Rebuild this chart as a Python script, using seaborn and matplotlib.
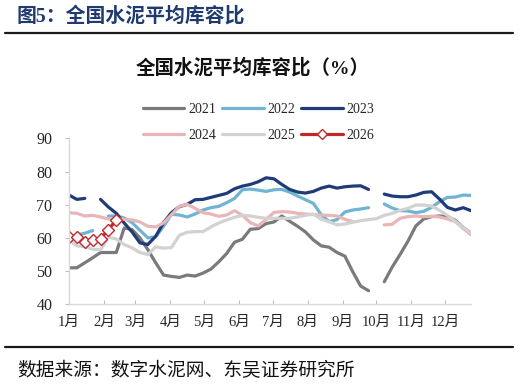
import numpy as np
import pandas as pd
import matplotlib
matplotlib.use("Agg")
import matplotlib.pyplot as plt
from matplotlib.lines import Line2D
import seaborn as sns

# weekly readings, week 0 = first week of January (NaN = no data / holiday gap)
nan = np.nan
weeks = np.arange(52)

y2021 = [51.0, 51.0, 52.5, 54.0, 55.6, 55.6, 55.6, 63.0, 62.5, 60.0,
         56.5, 52.5, 48.8, 48.4, 48.1, 48.8, 48.5, 49.4, 50.6, 52.8,
         55.3, 58.7, 59.6, 62.6, 62.8, 64.3, 64.8, 66.6, 65.0, 63.5,
         61.8, 59.4, 57.6, 57.2, 55.6, 54.5, 49.8, 45.5, 44.1, nan,
         46.8, 51.2, 55.0, 59.0, 63.6, 65.7, 66.4, 66.6, 66.4, 65.3,
         63.2, 61.4]
y2022 = [nan, 60.9, 61.4, 62.2, nan, 66.6, 66.6, 66.0, 64.6, 62.3,
         60.0, 60.3, 63.5, 67.1, 66.9, 66.3, 67.2, 68.4, 69.1, 69.5,
         70.6, 71.9, 74.5, 74.7, 74.4, 74.0, 74.5, 74.6, 73.8, 72.6,
         71.5, 70.4, 67.0, 64.9, 65.5, 67.8, 68.4, 68.7, 69.1, nan,
         70.2, 69.0, 68.2, 68.1, 67.6, 68.0, 69.2, 70.9, 72.2, 72.3,
         72.9, 72.8]
y2023 = [72.9, 71.6, 71.9, nan, 71.6, 69.3, 67.4, 64.5, 61.8, 58.5,
         58.0, 60.5, 64.6, 67.6, 69.4, 70.1, 71.5, 71.6, 72.2, 72.8,
         73.4, 74.8, 75.6, 76.1, 76.9, 78.1, 77.8, 76.1, 74.6, 73.8,
         73.5, 74.0, 75.0, 75.6, 75.0, 75.4, 75.6, 75.7, 74.6, nan,
         73.2, 72.6, 72.4, 72.4, 72.9, 73.7, 73.9, 71.7, 69.2, 68.4,
         69.1, 68.2]
y2024 = [67.6, 67.4, 66.6, 66.8, 66.3, 65.7, 65.8, 65.6, 65.4, 64.8,
         63.5, 63.3, 64.5, 67.0, 69.5, 70.1, 68.9, 67.6, 67.2, 66.5,
         66.9, 68.2, 66.8, 64.6, 63.6, 65.5, 67.7, 67.9, 67.8, 67.4,
         67.2, 67.0, 66.9, 66.8, 66.6, 65.6, 64.9, nan, nan, nan,
         63.9, 64.1, 65.9, 66.4, 66.6, 66.4, 66.5, 66.3, 65.7, 64.9,
         62.9, 60.9]
y2025 = [59.4, 57.6, 57.4, 56.6, 56.4, 60.2, 59.7, 58.0, 57.0, 55.6,
         55.0, 57.3, 56.9, 57.1, 60.8, 61.7, 61.9, 61.9, 63.3, 64.5,
         65.4, 66.2, 66.8, 66.6, 66.2, 65.9, 65.9, 65.9, 65.9, 66.3,
         66.8, 67.2, 65.6, 64.9, 63.9, 64.2, 64.7, 65.2, 65.5, 65.8,
         66.8, 67.4, 68.3, 68.9, 69.9, 69.9, 69.6, 68.3, 66.8, 65.0,
         63.2, 61.4]
y2026 = [60.4, 60.3, 58.9, 59.3, 59.8, 62.5, 65.4]

years = ["2021", "2022", "2023", "2024", "2025", "2026"]
series = [y2021, y2022, y2023, y2024, y2025, y2026]
colors = ["#7a7a7a", "#6fb4d2", "#1f3c78", "#e8b6b6", "#d2d2d2", "#c0282d"]

month_labels = ["1月", "2月", "3月", "4月", "5月", "6月",
                "7月", "8月", "9月", "10月", "11月", "12月"]
month_start_day = [0, 31, 59, 90, 120, 151, 181, 212, 243, 273, 304, 334]

# long table, one segment id per unbroken run so gaps stay open
rows = []
for yr, vals in zip(years, series):
    seg = 0
    prev_nan = False
    for w, v in zip(weeks, vals):
        if np.isnan(v):
            prev_nan = True
            continue
        if prev_nan:
            seg += 1
            prev_nan = False
        rows.append({"day": w * 7, "value": v, "year": yr, "seg": f"{yr}-{seg}"})
df = pd.DataFrame(rows)

sns.set_theme(style="white")
plt.rcParams["font.family"] = ["Liberation Serif", "Noto Sans CJK SC"]

fig = plt.figure(figsize=(5.18, 3.88), dpi=100)
ax = fig.add_axes([69 / 518, 1 - 304.3 / 388, (471 - 69) / 518, (304.3 - 138.3) / 388])

base = df[df["year"] != "2026"]
sns.lineplot(data=base, x="day", y="value", hue="year", units="seg", estimator=None,
             palette=dict(zip(years, colors)), linewidth=2.3, legend=False, ax=ax,
             sort=True)
d26 = df[df["year"] == "2026"]
sns.lineplot(data=d26, x="day", y="value", color=colors[5], linewidth=2.3,
             marker="D", markersize=6, markerfacecolor="white",
             markeredgecolor=colors[5], markeredgewidth=1.0, ax=ax, legend=False)

ax.set_xlim(0, weeks[-1] * 7)
ax.set_ylim(40, 90)
ax.set_yticks(np.arange(40, 91, 10))
ax.set_xticks(month_start_day)
ax.set_xticklabels(month_labels)
ax.set_xlabel("")
ax.set_ylabel("")
for s in ["top", "right"]:
    ax.spines[s].set_visible(False)
for s in ["left", "bottom"]:
    ax.spines[s].set_color("#d9d9d9")
    ax.spines[s].set_linewidth(1.0)
ax.tick_params(axis="y", direction="out", length=3, width=0.8, color="#bfbfbf",
               pad=9, labelsize=11.5, left=True)
ax.tick_params(axis="x", direction="in", length=3, width=0.8, color="#bfbfbf",
               pad=8, labelsize=10.5, bottom=True)

# legend laid out row-wise: 2021 2022 2023 / 2024 2025 2026
handles = {}
for yr, c in zip(years, colors):
    if yr == "2026":
        handles[yr] = Line2D([], [], color=c, linewidth=2.3, marker="D", markersize=5,
                             markerfacecolor="white", markeredgecolor=c)
    else:
        handles[yr] = Line2D([], [], color=c, linewidth=2.3)
order = ["2021", "2024", "2022", "2025", "2023", "2026"]
fig.legend([handles[k] for k in order], order, ncol=3, loc="center",
           bbox_to_anchor=(258.5 / 518, 1 - 122.5 / 388), frameon=False,
           fontsize=10, handlelength=3.0, handletextpad=0.25, columnspacing=0.45,
           labelspacing=0.95, numpoints=1, borderpad=0)

# titles, rules and source
fig.text(17 / 518, 1 - 17 / 388, "图5：全国水泥平均库容比", color="#1f3a6e",
         fontsize=14.3, fontweight="bold", ha="left", va="center")
fig.add_artist(Line2D([5 / 518, 513 / 518], [1 - 33 / 388, 1 - 33 / 388],
                      color="#1a1a1a", linewidth=1.6))
fig.text(252.5 / 518, 1 - 68 / 388, "全国水泥平均库容比（%）", fontsize=14,
         fontweight="bold", ha="center", va="center", color="#111111")
fig.add_artist(Line2D([5 / 518, 513 / 518], [1 - 347 / 388, 1 - 347 / 388],
                      color="#1a1a1a", linewidth=1.6))
fig.text(17 / 518, 1 - 371 / 388, "数据来源：数字水泥网、东吴证券研究所",
         fontsize=13.5, ha="left", va="center", color="#111111")

fig.savefig("out.png", dpi=100)
